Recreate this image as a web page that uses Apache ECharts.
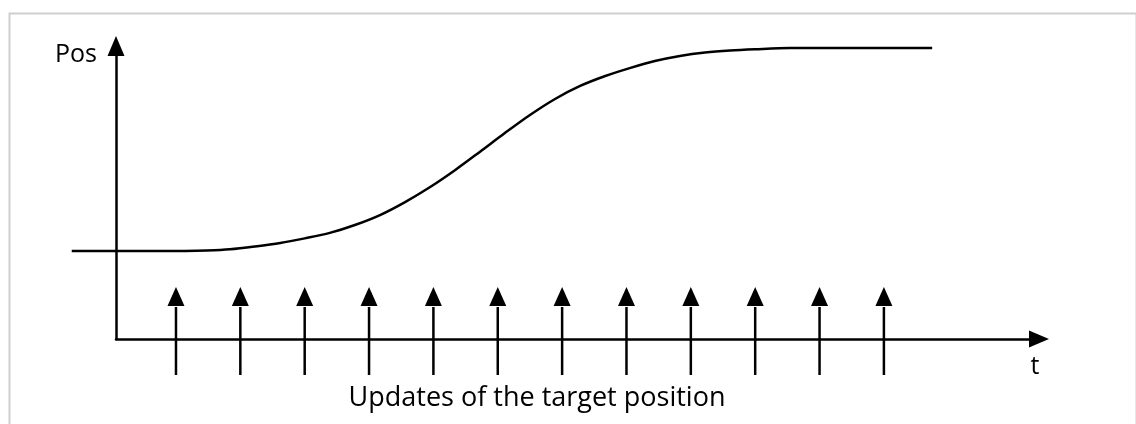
<!DOCTYPE html>
<html>
<head>
<meta charset="utf-8">
<title>Position profile and target updates</title>
<script src="https://cdn.jsdelivr.net/npm/echarts@6/dist/echarts.min.js"></script>
<style>
  html, body { margin: 0; padding: 0; background: #ffffff; }
  #chart { width: 1136px; height: 424px; }
</style>
</head>
<body>
<div id="chart"></div>
<script>
// Time is measured in update periods; position is normalised (0 = start, 1 = target).
const curveTime = [-0.62, 1.14, 1.48, 1.84, 2.23, 2.62, 3.00, 3.39, 3.78, 4.17, 4.56, 4.95, 5.34, 5.72,
                   6.11, 6.50, 6.89, 7.28, 7.67, 8.05, 8.44, 8.83, 9.22, 9.61, 10.00, 10.54, 12.75];
const curvePos  = [0.000, 0.000, 0.002, 0.008, 0.022, 0.039, 0.062, 0.089, 0.128, 0.177, 0.241, 0.315, 0.399, 0.488,
                   0.581, 0.670, 0.749, 0.813, 0.862, 0.901, 0.936, 0.961, 0.978, 0.988, 0.994, 1.000, 1.000];

// Moments at which a new target position arrives
const updateTimes = [1, 2, 3, 4, 5, 6, 7, 8, 9, 10, 11, 12];

const yAxisName = 'Pos';
const xAxisName = 't';
const caption = 'Updates of the target position';

const FONT = '"Open Sans", "Noto Sans", sans-serif';
const INK = '#000000';
const Y_MIN = -0.434;

const chart = echarts.init(document.getElementById('chart'), null, { renderer: 'canvas' });

const curveData = curveTime.map((t, i) => [t, curvePos[i]]);

// The whole position profile is drawn as one smooth path from the first item
function renderProfile(params, api) {
  if (params.dataIndexInside !== 0) return null;
  const points = curveData.map(d => api.coord(d));
  return {
    type: 'polyline',
    shape: { points: points, smooth: 0.3 },
    style: { stroke: INK, lineWidth: 2.5, fill: 'none' }
  };
}

// Upward arrow hanging across the time axis, one per update
function renderUpdateArrow(params, api) {
  const t = api.value(0);
  const base = api.coord([t, Y_MIN]);   // point on the time axis
  const x = base[0];
  const axisY = base[1];
  const tipY = axisY - 52;
  const headBaseY = axisY - 33;
  const half = 8.5;
  return {
    type: 'group',
    children: [
      {
        type: 'line',
        shape: { x1: x, y1: axisY + 36, x2: x, y2: headBaseY + 1 },
        style: { stroke: INK, lineWidth: 2.5 }
      },
      {
        type: 'polygon',
        shape: { points: [[x, tipY], [x + half, headBaseY], [x - half, headBaseY]] },
        style: { fill: INK }
      }
    ]
  };
}

const axisLineStyle = {
  show: true,
  onZero: false,
  symbol: ['none', 'triangle'],
  symbolSize: [17, 20],
  lineStyle: { color: INK, width: 2.5 }
};

const option = {
  animation: false,
  backgroundColor: '#ffffff',
  grid: { left: 116, top: 46, right: 97, bottom: 85, containLabel: false },
  xAxis: {
    type: 'value',
    min: 0.068,
    max: 14.41,
    axisLine: axisLineStyle,
    axisTick: { show: false },
    axisLabel: { show: false },
    splitLine: { show: false }
  },
  yAxis: {
    type: 'value',
    min: Y_MIN,
    max: 1.01,
    axisLine: axisLineStyle,
    axisTick: { show: false },
    axisLabel: { show: false },
    splitLine: { show: false }
  },
  series: [
    {
      name: 'Position',
      type: 'custom',
      data: curveData,
      renderItem: renderProfile,
      clip: false,
      z: 3
    },
    {
      name: 'Target updates',
      type: 'custom',
      data: updateTimes.map(t => [t]),
      renderItem: renderUpdateArrow,
      clip: false,
      z: 4
    }
  ],
  graphic: [
    {
      type: 'rect',
      left: 7, top: 11,
      shape: { x: 0, y: 0, width: 1127, height: 430 },
      style: { fill: 'none', stroke: '#cfcfcf', lineWidth: 2 },
      silent: true,
      z: -10
    },
    {
      type: 'text',
      x: 76, y: 55,
      style: { text: yAxisName, font: '25px ' + FONT, fill: INK, textAlign: 'center', textVerticalAlign: 'middle' }
    },
    {
      type: 'text',
      x: 1035, y: 367,
      style: { text: xAxisName, font: '25px ' + FONT, fill: INK, textAlign: 'center', textVerticalAlign: 'middle' }
    },
    {
      type: 'text',
      x: 537, y: 398,
      style: { text: caption, font: '27px ' + FONT, fill: INK, textAlign: 'center', textVerticalAlign: 'middle' }
    }
  ]
};

chart.setOption(option);
</script>
</body>
</html>
